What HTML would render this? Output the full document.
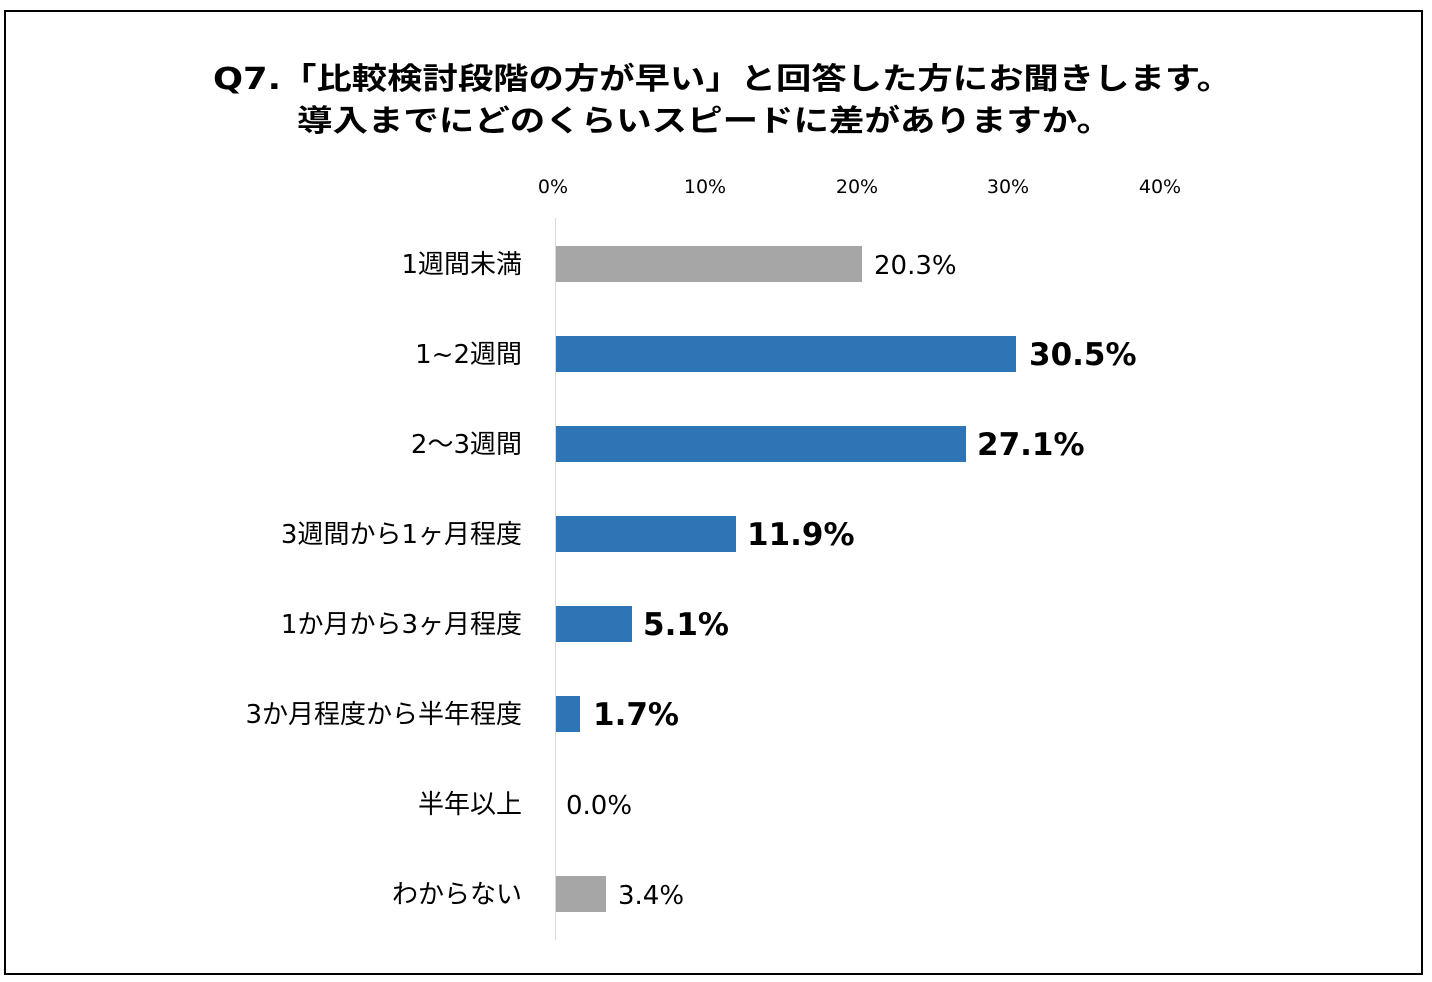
<!DOCTYPE html>
<html><head><meta charset="utf-8"><style>
html,body{margin:0;padding:0;background:#fff;}
svg{display:block;font-family:"DejaVu Sans","Noto Sans CJK JP",sans-serif;}
</style></head><body>
<svg width="1432" height="982" viewBox="0 0 1432 982" xmlns="http://www.w3.org/2000/svg">
<rect x="5" y="11" width="1417" height="963" fill="#fff" stroke="#000" stroke-width="2"/>
<g font-weight="bold" font-size="30" fill="#000">
<text x="213" y="89" textLength="1019" lengthAdjust="spacingAndGlyphs">Q7.「比較検討段階の方が早い」と回答した方にお聞きします。</text>
<text x="297" y="131" textLength="815" lengthAdjust="spacingAndGlyphs">導入までにどのくらいスピードに差がありますか。</text>
</g>
<g font-size="19" fill="#000" text-anchor="middle">
<text x="553" y="193">0%</text><text x="705" y="193">10%</text><text x="857" y="193">20%</text><text x="1008" y="193">30%</text><text x="1160" y="193">40%</text>
</g>
<line x1="555.5" y1="218" x2="555.5" y2="940" stroke="#d9d9d9" stroke-width="1"/>
<g>
<rect x="556" y="246" width="306" height="36" fill="#a6a6a6"/>
<rect x="556" y="336" width="460" height="36" fill="#2e75b6"/>
<rect x="556" y="426" width="410" height="36" fill="#2e75b6"/>
<rect x="556" y="516" width="180" height="36" fill="#2e75b6"/>
<rect x="556" y="606" width="76" height="36" fill="#2e75b6"/>
<rect x="556" y="696" width="24" height="36" fill="#2e75b6"/>
<rect x="556" y="876" width="50" height="36" fill="#a6a6a6"/>
</g>
<g font-size="26" fill="#000" text-anchor="end">
<text x="522" y="273">1週間未満</text>
<text x="522" y="363">1~2週間</text>
<text x="522" y="453">2～3週間</text>
<text x="522" y="543">3週間から1ヶ月程度</text>
<text x="522" y="633">1か月から3ヶ月程度</text>
<text x="522" y="723">3か月程度から半年程度</text>
<text x="522" y="813">半年以上</text>
<text x="522" y="903">わからない</text>
</g>
<g font-size="26" fill="#000">
<text x="874" y="274">20.3%</text>
<text x="1029" y="365" font-weight="bold" font-size="31">30.5%</text>
<text x="977" y="455" font-weight="bold" font-size="31">27.1%</text>
<text x="747" y="545" font-weight="bold" font-size="31">11.9%</text>
<text x="643" y="635" font-weight="bold" font-size="31">5.1%</text>
<text x="593" y="725" font-weight="bold" font-size="31">1.7%</text>
<text x="566" y="814">0.0%</text>
<text x="618" y="904">3.4%</text>
</g>
</svg>
</body></html>
